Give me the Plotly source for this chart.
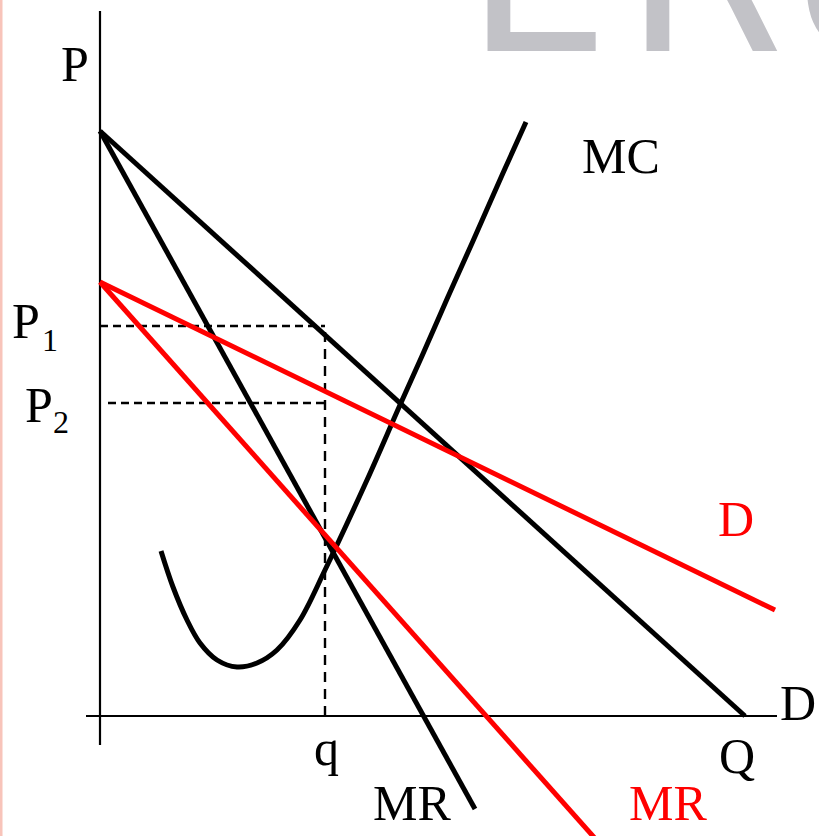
import plotly.graph_objects as go

# --- quantities (Q) and prices (P) in chart units -------------------------
# original demand / marginal revenue (black)
d_q = [0.0, 64.5]
d_p = [58.5, 0.0]
mr_q = [0.0, 37.5]
mr_p = [58.5, -9.3]

# new demand / marginal revenue (red)
d2_q = [0.0, 67.5]
d2_p = [43.4, 10.6]
mr2_q = [0.0, 50.0]
mr2_p = [43.4, -12.8]

# marginal cost curve
mc_q = [6.1, 7.3, 8.7, 10.0, 11.7, 13.7, 15.7, 17.7, 20.0, 22.5,
        26.7, 30.0, 32.2, 34.7, 37.3, 40.3, 42.6]
mc_p = [16.5, 12.9, 9.6, 7.3, 5.6, 4.9, 5.3, 6.6, 9.6, 14.6,
        23.6, 31.1, 36.0, 41.7, 47.5, 54.3, 59.4]

# chosen output and the two prices
q_star = 22.5
p1 = 39.0
p2 = 31.3

# axes extents
q_axis = [-1.4, 67.7]
p_axis = [-2.9, 70.5]

BLACK = "#000000"
RED = "#ff0000"
SERIF = "Liberation Serif"

fig = go.Figure()


def line(xs, ys, color, width, dash=None):
    fig.add_trace(go.Scatter(
        x=xs, y=ys, mode="lines", hoverinfo="skip", showlegend=False,
        line=dict(color=color, width=width, dash=dash),
    ))


# coordinate axes
line(q_axis, [0, 0], BLACK, 2.2)
line([0, 0], p_axis, BLACK, 2.2)

# dashed guides for q, P1 and P2
line([0, q_star], [p1, p1], BLACK, 2.4, "8px,5px")
line([0.8, q_star], [p2, p2], BLACK, 2.4, "8px,5px")
line([q_star, q_star], [0, p1], BLACK, 2.4, "10px,7px")

# curves
line(d_q, d_p, BLACK, 5)
line(mr_q, mr_p, BLACK, 5)
fig.add_trace(go.Scatter(
    x=mc_q, y=mc_p, mode="lines", hoverinfo="skip", showlegend=False,
    line=dict(color=BLACK, width=5, shape="spline", smoothing=1.0),
))
line(d2_q, d2_p, RED, 5)
line(mr2_q, mr2_p, RED, 5)


def label(text, x, y, color=BLACK, size=50):
    fig.add_annotation(
        x=x, y=y, xref="x", yref="y", text=text, showarrow=False,
        xanchor="center", yanchor="middle",
        font=dict(family=SERIF, size=size, color=color),
    )


label("P", -2.5, 65.2)
label("MC", 52.1, 56.0)
label("P", -7.4, p1 + 0.5)
label("1", -5.0, p1 - 1.4, size=32)
label("P", -6.1, p2 - 0.2)
label("2", -3.9, p2 - 1.9, size=32)
label("D", 63.55, 19.7, RED)
label("D", 69.8, 1.3)
label("Q", 63.7, -4.0)
label("q", q_star + 0.1, -3.2)
label("MR", 31.2, -8.7)
label("MR", 56.8, -8.7, RED)

# faint lettering running off the top edge
for ch, xc in (("E", 0.6557), ("R", 0.8596), ("U", 1.0635)):
    fig.add_annotation(
        x=xc, y=0.872, xref="paper", yref="paper", text=ch, showarrow=False,
        xanchor="center", yanchor="bottom",
        font=dict(family="DejaVu Sans", size=230, color="#c2c2c7"),
    )

# thin tinted strip on the left edge
fig.add_shape(type="rect", xref="paper", yref="paper",
              x0=0, x1=2.5 / 819, y0=0, y1=1,
              line=dict(width=0), fillcolor="#f8c4ba", layer="above")

fig.update_xaxes(visible=False, range=[-10.0, 71.9], fixedrange=True)
fig.update_yaxes(visible=False, range=[-12.0, 71.6], fixedrange=True)
fig.update_layout(
    width=819, height=836,
    margin=dict(l=0, r=0, t=0, b=0),
    paper_bgcolor="white", plot_bgcolor="white",
    showlegend=False,
)

fig.write_html("out.html")
